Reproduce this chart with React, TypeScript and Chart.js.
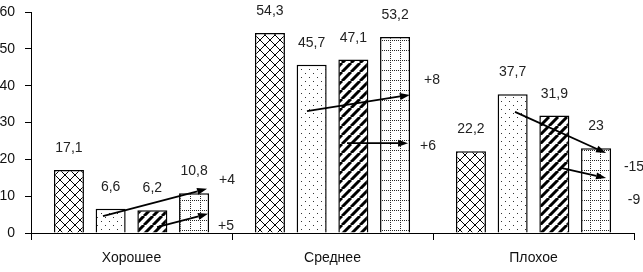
import React, { useEffect, useRef } from 'react';
import { Chart, registerables } from 'chart.js';

Chart.register(...registerables);

const categories = ['Хорошее', 'Среднее', 'Плохое'];
const series1 = [17.1, 54.3, 22.2];
const series2 = [6.6, 45.7, 37.7];
const series3 = [6.2, 47.1, 31.9];
const series4 = [10.8, 53.2, 23];

const yMin = 0;
const yMax = 60;
const yStep = 10;

// change arrows: category, start (offset within category, value), end (offset, value)
const arrowCategory = [0, 0, 1, 1, 2, 2];
const arrowFromOffset = [-0.142, 0.127, -0.127, 0.072, -0.092, 0.142];
const arrowFromValue = [4.6, 1.6, 33.1, 24.4, 32.9, 17.6];
const arrowToOffset = [0.376, 0.381, 0.385, 0.376, 0.361, 0.361];
const arrowToValue = [12.0, 5.2, 37.5, 24.4, 21.7, 14.9];
const changeLabels = ['+4', '+5', '+8', '+6', '-15', '-9'];
const changeLabelOffset = [0.475, 0.47, 0.495, 0.475, 0.5, 0.5];
const changeLabelValue = [14.4, 1.9, 41.5, 23.6, 17.9, 9.0];

const FONT = "'Liberation Sans', Arial, sans-serif";

function makePattern(kind: string): CanvasPattern | string {
  const c = document.createElement('canvas');
  const ctx = c.getContext('2d');
  if (!ctx) return '#fff';
  if (kind === 'cross') {
    const s = 10;
    c.width = s; c.height = s;
    ctx.fillStyle = '#fff';
    ctx.fillRect(0, 0, s, s);
    ctx.strokeStyle = '#000';
    ctx.lineWidth = 1;
    ctx.beginPath();
    ctx.moveTo(0, 0); ctx.lineTo(s, s);
    ctx.moveTo(s, 0); ctx.lineTo(0, s);
    ctx.stroke();
  } else if (kind === 'dots') {
    const s = 8;
    c.width = s; c.height = s;
    ctx.fillStyle = '#fff';
    ctx.fillRect(0, 0, s, s);
    ctx.fillStyle = '#333';
    ctx.fillRect(1, 1, 1, 1);
    ctx.fillRect(5, 5, 1, 1);
  } else if (kind === 'stripes') {
    const s = 9;
    c.width = s; c.height = s;
    ctx.fillStyle = '#fff';
    ctx.fillRect(0, 0, s, s);
    ctx.strokeStyle = '#000';
    ctx.lineWidth = 3;
    ctx.beginPath();
    for (const o of [-s, 0, s]) {
      ctx.moveTo(o, s);
      ctx.lineTo(o + s, 0);
    }
    ctx.stroke();
  } else {
    const s = 10;
    c.width = s; c.height = s;
    ctx.fillStyle = '#fff';
    ctx.fillRect(0, 0, s, s);
    ctx.fillStyle = '#222';
    for (let i = 0; i < s; i += 2) {
      ctx.fillRect(i, 0, 1, 1);
      ctx.fillRect(0, i, 1, 1);
    }
  }
  return ctx.createPattern(c, 'repeat') || '#fff';
}

const overlayPlugin = {
  id: 'overlay',
  afterDatasetsDraw(chart: any) {
    const ctx = chart.ctx;
    const xs = chart.scales.x;
    const ys = chart.scales.y;
    // value labels
    ctx.save();
    ctx.font = `14px ${FONT}`;
    ctx.fillStyle = '#222';
    ctx.textAlign = 'center';
    ctx.textBaseline = 'alphabetic';
    chart.data.datasets.forEach((ds: any, di: number) => {
      const meta = chart.getDatasetMeta(di);
      meta.data.forEach((el: any, i: number) => {
        const txt = String(ds.data[i]).replace('.', ',');
        ctx.fillText(txt, el.x, el.y - 18);
      });
    });
    // arrows
    const catW = xs.getPixelForValue(1) - xs.getPixelForValue(0);
    ctx.strokeStyle = '#000';
    ctx.fillStyle = '#000';
    ctx.lineWidth = 1.8;
    for (let k = 0; k < arrowCategory.length; k++) {
      const cx = xs.getPixelForValue(arrowCategory[k]);
      const x1 = cx + arrowFromOffset[k] * catW;
      const y1 = ys.getPixelForValue(arrowFromValue[k]);
      const x2 = cx + arrowToOffset[k] * catW;
      const y2 = ys.getPixelForValue(arrowToValue[k]);
      const ang = Math.atan2(y2 - y1, x2 - x1);
      const hl = 10, hw = 3.5;
      const bx = x2 - hl * Math.cos(ang);
      const by = y2 - hl * Math.sin(ang);
      ctx.beginPath();
      ctx.moveTo(x1, y1);
      ctx.lineTo(bx, by);
      ctx.stroke();
      ctx.beginPath();
      ctx.moveTo(x2, y2);
      ctx.lineTo(bx + hw * Math.sin(ang), by - hw * Math.cos(ang));
      ctx.lineTo(bx - hw * Math.sin(ang), by + hw * Math.cos(ang));
      ctx.closePath();
      ctx.fill();
    }
    // change labels
    ctx.fillStyle = '#222';
    ctx.textBaseline = 'middle';
    ctx.font = `14px ${FONT}`;
    for (let k = 0; k < changeLabels.length; k++) {
      const cx = xs.getPixelForValue(arrowCategory[k]);
      ctx.fillText(changeLabels[k], cx + changeLabelOffset[k] * catW, ys.getPixelForValue(changeLabelValue[k]));
    }
    ctx.restore();
  },
};

export default function App() {
  const ref = useRef<HTMLCanvasElement | null>(null);
  useEffect(() => {
    if (!ref.current) return;
    const common = { borderColor: '#000', borderWidth: 1.5, categoryPercentage: 0.83, barPercentage: 0.72 };
    const chart = new Chart(ref.current, {
      type: 'bar',
      data: {
        labels: categories,
        datasets: [
          { label: 's1', data: series1, backgroundColor: makePattern('cross') as any, ...common },
          { label: 's2', data: series2, backgroundColor: makePattern('dots') as any, ...common },
          { label: 's3', data: series3, backgroundColor: makePattern('stripes') as any, ...common },
          { label: 's4', data: series4, backgroundColor: makePattern('grid') as any, ...common },
        ],
      },
      options: {
        animation: false,
        responsive: false,
        layout: { padding: { top: 12, right: 9, left: 0, bottom: 0 } },
        plugins: { legend: { display: false }, tooltip: { enabled: false }, title: { display: false } },
        scales: {
          x: {
            afterFit: (s: any) => { s.height = 39; s.paddingLeft = 0; s.paddingRight = 0; },
            grid: { offset: true, drawOnChartArea: false, drawTicks: true, tickLength: 7, color: '#000' },
            border: { display: true, color: '#000', width: 1 },
            ticks: { color: '#111', font: { family: FONT, size: 14 }, padding: 10, maxRotation: 0 },
          },
          y: {
            min: yMin,
            max: yMax,
            afterFit: (s: any) => { s.width = 31; s.paddingTop = 0; s.paddingBottom = 0; },
            grid: { drawOnChartArea: false, drawTicks: true, tickLength: 6, color: '#000' },
            border: { display: true, color: '#000', width: 1 },
            ticks: { stepSize: yStep, color: '#111', font: { family: FONT, size: 14 }, padding: 10 },
          },
        },
      },
      plugins: [overlayPlugin],
    });
    return () => chart.destroy();
  }, []);
  return (
    <canvas
      ref={ref}
      width={643}
      height={272}
      style={{ position: 'fixed', left: 0, top: 0, width: 643, height: 272, display: 'block', background: '#fff' }}
    />
  );
}
